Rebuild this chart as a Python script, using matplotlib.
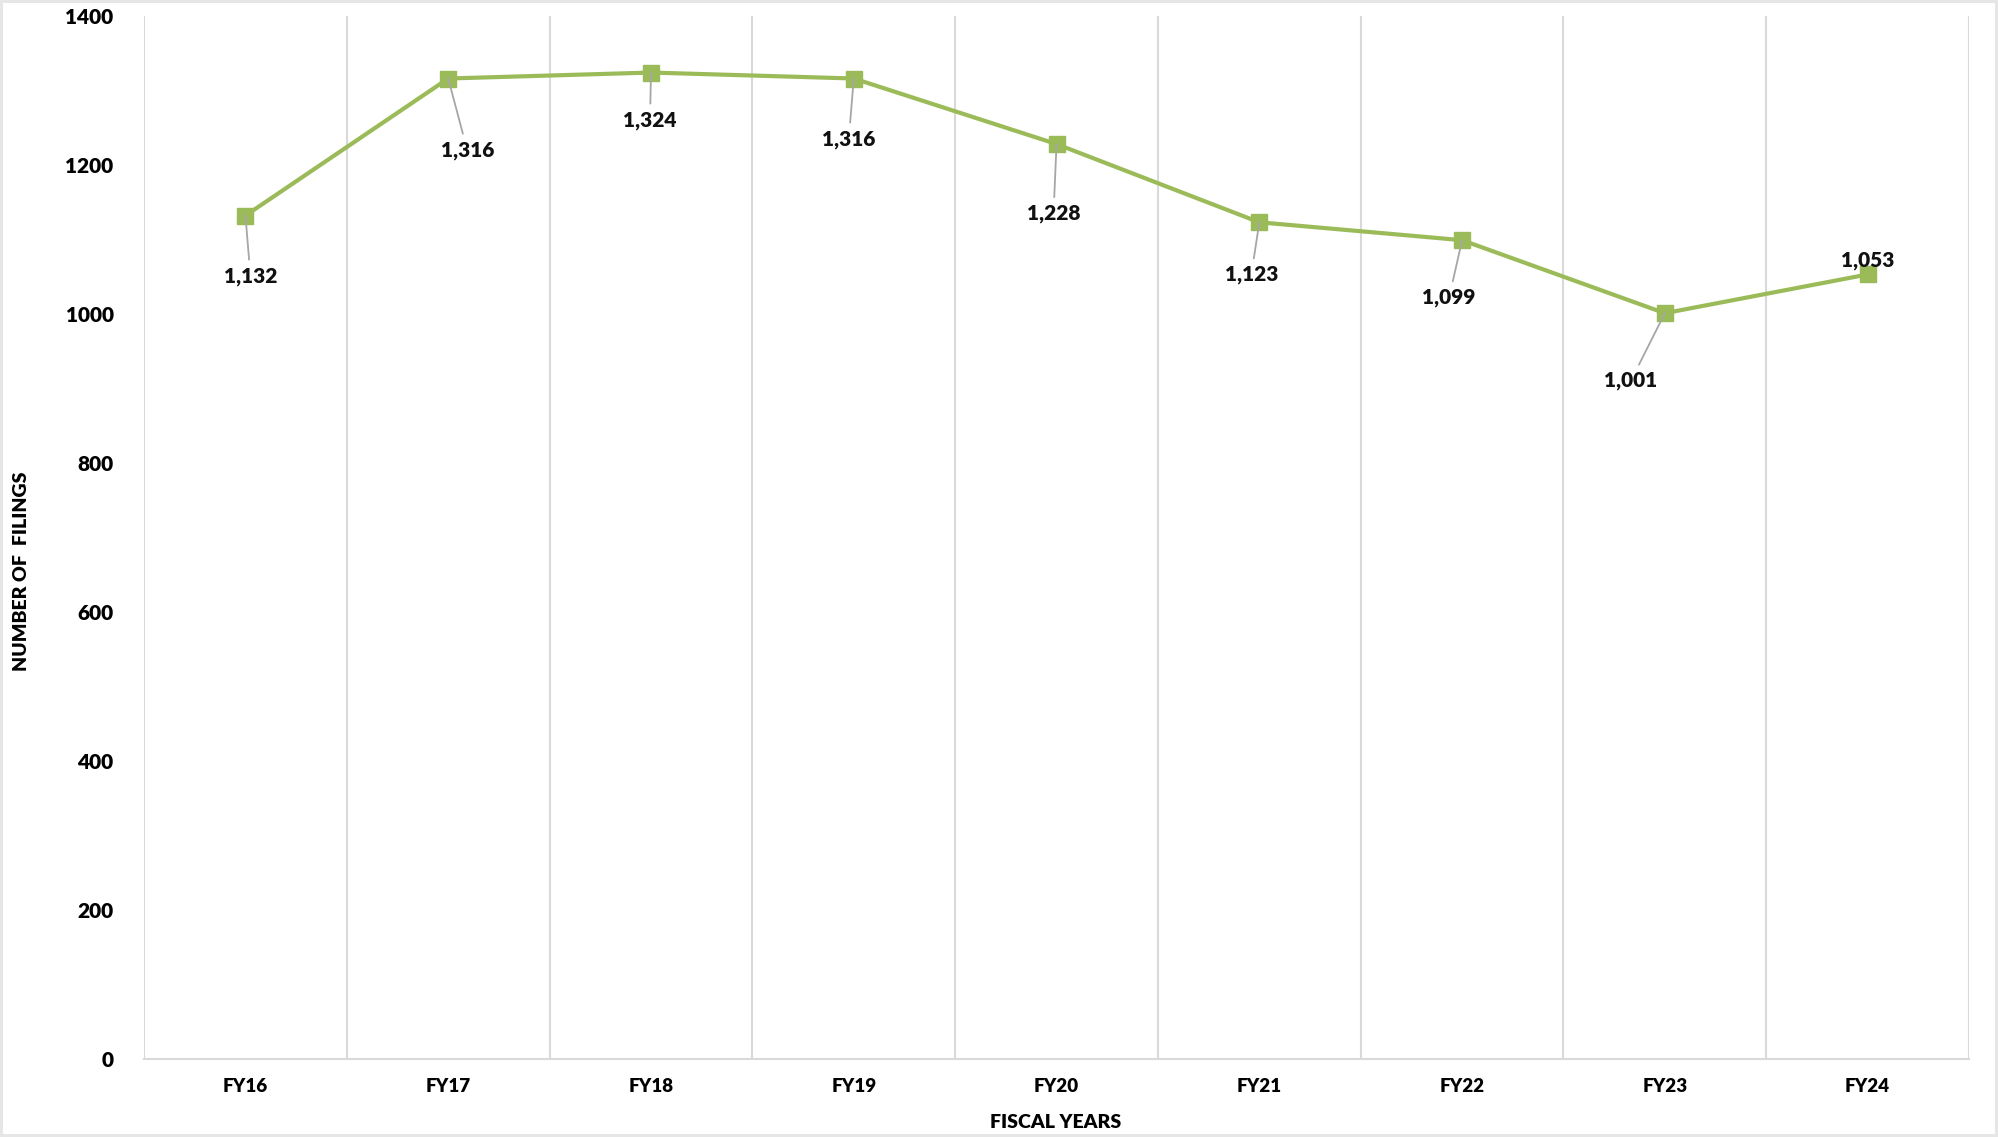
import matplotlib
matplotlib.use("Agg")
import matplotlib.pyplot as plt
import numpy as np

years = ["FY16", "FY17", "FY18", "FY19", "FY20", "FY21", "FY22", "FY23", "FY24"]
filings = [1132, 1316, 1324, 1316, 1228, 1123, 1099, 1001, 1053]
yticks = [0, 200, 400, 600, 800, 1000, 1200, 1400]

# label offsets in pixels (style)
offsets = [(5, -51), (19, -62), (-1, -38), (-5, -51), (-3, -60),
           (-8, -43), (-13, -48), (-34, -58), (0, 4)]

plt.rcParams['font.family'] = ['Lato', 'DejaVu Sans']
W = 'heavy'

fig = plt.figure(figsize=(19.98, 11.37), dpi=100)
fig.patch.set_edgecolor('#e6e6e6')
fig.patch.set_linewidth(3)
ax = fig.add_axes([0.0721, 0.0686, 0.9134, 0.9174])

x = np.arange(len(years))
green = '#9BBB59'
ax.plot(x, filings, color=green, lw=3, marker='s', markersize=11,
        markerfacecolor=green, markeredgecolor=green, zorder=3)

for xi, v, (dx, dy) in zip(x, filings, offsets):
    txt = f"{v:,}"
    if dy > 0:
        ax.annotate(txt, (xi, v), xytext=(dx, dy), textcoords='offset pixels',
                    ha='center', va='bottom', fontsize=15, fontweight=W, color='#111111')
    else:
        ax.annotate(txt, (xi, v), xytext=(dx, dy), textcoords='offset pixels',
                    ha='center', va='top', fontsize=15, fontweight=W, color='#111111',
                    arrowprops=dict(arrowstyle='-', color='#a6a6a6', lw=1.3,
                                    shrinkA=3, shrinkB=0))

ax.set_xlim(-0.5, len(years) - 0.5)
ax.set_ylim(0, 1400)
ax.set_yticks(yticks)
ax.set_yticklabels([str(t) for t in yticks], fontsize=15, fontweight=W)
ax.set_xticks(x)
ax.set_xticklabels(years, fontsize=13.5, fontweight=W)
ax.tick_params(axis='both', length=0)
ax.tick_params(axis='y', pad=22)
ax.tick_params(axis='x', pad=14)

ax.set_xticks(np.arange(-0.5, len(years)), minor=True)
ax.tick_params(axis='x', which='minor', length=0)
ax.grid(True, axis='x', which='minor', color='#d9d9d9', lw=1.5)
ax.grid(False, axis='x', which='major')
ax.grid(False, axis='y')

for s in ['top', 'left', 'right']:
    ax.spines[s].set_visible(False)
ax.spines['bottom'].set_color('#d9d9d9')
ax.spines['bottom'].set_linewidth(1.5)

fig.text(1056 / 1998, 1 - 1123 / 1137, "FISCAL YEARS", ha='center', va='center',
         fontsize=14, fontweight=W)
fig.text(22 / 1998, 1 - 571 / 1137, "NUMBER OF  FILINGS", ha='center', va='center',
         rotation=90, fontsize=14, fontweight=W)

fig.savefig("out.png", dpi=100)
